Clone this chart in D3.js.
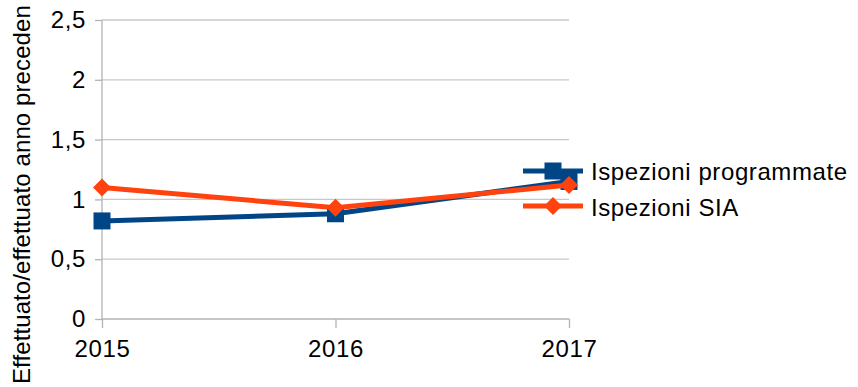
<!DOCTYPE html>
<html><head><meta charset="utf-8">
<script src="https://cdn.jsdelivr.net/npm/d3@7"></script>
<style>
body{margin:0;background:#fff;}
text{font-family:"Liberation Sans",Arial,sans-serif;fill:#000;}
</style></head>
<body><svg id="c" width="858" height="387"></svg>
<script>
const years = ["2015","2016","2017"];
const programmate = [0.82, 0.88, 1.15];
const sia = [1.10, 0.93, 1.12];
const yTicks = [0, 0.5, 1, 1.5, 2, 2.5];
const seriesNames = ["Ispezioni programmate", "Ispezioni SIA"];
const yTitle = "Effettuato/effettuato anno preceden";

const svg = d3.select("#c");
const x = d3.scalePoint().domain(years).range([102, 569]);
const y = d3.scaleLinear().domain([0, 2.5]).range([319, 20]);
const fmt = d => String(d).replace(".", ",");
const FS = 24;
const LS = 0.6;

// gridlines
svg.append("g").selectAll("line").data(yTicks.filter(d=>d>0)).join("line")
  .attr("x1", 102).attr("x2", 569).attr("y1", d=>y(d)).attr("y2", d=>y(d))
  .attr("stroke", "#c8c8c8").attr("stroke-width", 1.3);

// y axis
const ya = svg.append("g").attr("transform", "translate(102,0)")
  .call(d3.axisLeft(y).tickValues(yTicks).tickFormat(fmt).tickSize(7).tickPadding(9));
ya.select(".domain").attr("stroke", "#b3b3b3").attr("stroke-width", 1.3).attr("d", "M0,20V319");
ya.selectAll(".tick line").attr("stroke", "#b3b3b3").attr("stroke-width", 1.3);
ya.selectAll(".tick text").attr("font-size", FS).attr("font-family", "Liberation Sans").attr("fill", "#000").attr("letter-spacing", LS);

// x axis
const xa = svg.append("g").attr("transform", "translate(0,319)")
  .call(d3.axisBottom(x).tickSize(9).tickPadding(12));
xa.select(".domain").attr("stroke", "#b3b3b3").attr("stroke-width", 1.3).attr("d", "M102,0H569");
xa.selectAll(".tick line").attr("stroke", "#b3b3b3").attr("stroke-width", 1.3);
xa.selectAll(".tick text").attr("font-size", FS).attr("font-family", "Liberation Sans").attr("fill", "#000").attr("letter-spacing", LS);

// y title
svg.append("text").attr("transform", "translate(30,384) rotate(-90)")
  .attr("font-size", FS).attr("letter-spacing", 0.1).text(yTitle);

const blue = "#004586", orange = "#ff420e";
const line = d3.line().x((d,i)=>x(years[i])).y(d=>y(d));

const sq = 17;
function square(g, cx, cy, col){
  g.append("rect").attr("x", cx-sq/2).attr("y", cy-sq/2).attr("width", sq).attr("height", sq).attr("fill", col);
}
function diamond(g, cx, cy, col){
  g.append("path").attr("d", `M${cx},${cy-9}L${cx+9},${cy}L${cx},${cy+9}L${cx-9},${cy}Z`).attr("fill", col);
}

// legend (drawn under series)
const lg = svg.append("g");
lg.append("line").attr("x1", 523).attr("x2", 583).attr("y1", 171).attr("y2", 171).attr("stroke", blue).attr("stroke-width", 5);
square(lg, 553, 171, blue);
lg.append("text").attr("x", 591).attr("y", 180).attr("font-size", FS).attr("letter-spacing", LS).text(seriesNames[0]);
lg.append("line").attr("x1", 523).attr("x2", 583).attr("y1", 206).attr("y2", 206).attr("stroke", orange).attr("stroke-width", 5);
diamond(lg, 553, 206, orange);
lg.append("text").attr("x", 591).attr("y", 216).attr("font-size", FS).attr("letter-spacing", LS).text(seriesNames[1]);

// series
const g1 = svg.append("g");
g1.append("path").datum(programmate).attr("d", line).attr("fill","none").attr("stroke", blue).attr("stroke-width", 5);
programmate.forEach((v,i)=>square(g1, x(years[i]), y(v), blue));
const g2 = svg.append("g");
g2.append("path").datum(sia).attr("d", line).attr("fill","none").attr("stroke", orange).attr("stroke-width", 5);
sia.forEach((v,i)=>diamond(g2, x(years[i]), y(v), orange));
</script></body></html>
